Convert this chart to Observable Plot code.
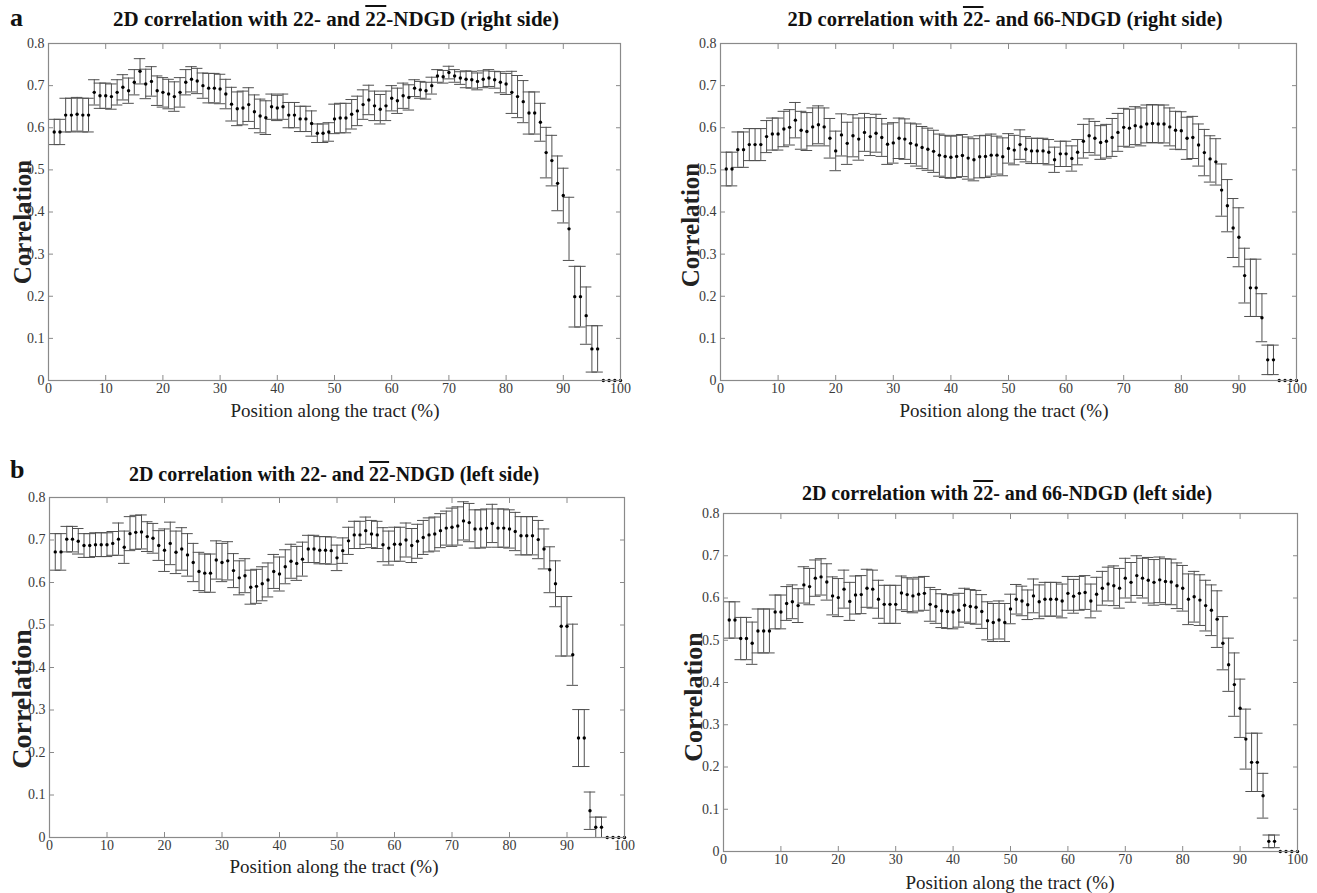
<!DOCTYPE html>
<html>
<head>
<meta charset="utf-8">
<script src="https://cdn.jsdelivr.net/npm/d3@7"></script>
<script src="https://cdn.jsdelivr.net/npm/@observablehq/plot@0.6"></script>
<style>
  html, body { margin: 0; padding: 0; background: #fff; }
  #root { position: relative; width: 1317px; height: 893px; overflow: hidden; font-family: "Liberation Serif", "DejaVu Serif", serif; color: #111; }
  .abs { position: absolute; white-space: nowrap; line-height: 1; }
  .title { font-weight: bold; transform: translateX(-50%); }
  .xlab { font-size: 19px; transform: translateX(-50%); color: #222; }
  .ylab { font-weight: bold; transform: translate(-50%, -50%) rotate(-90deg); color: #222; }
  .plab { font-weight: bold; font-size: 26px; }
  .ov { text-decoration: overline; }
  svg { position: absolute; overflow: visible; }
  svg text { font-family: "Liberation Serif", serif !important; }
</style>
</head>
<body>
<div id="root"></div>
<script>
// ---------- data ----------
const positions = d3.range(1, 101); // position along the tract (%)
const xTicks = [0, 10, 20, 30, 40, 50, 60, 70, 80, 90, 100];
const yTicks = [0, 0.1, 0.2, 0.3, 0.4, 0.5, 0.6, 0.7, 0.8];
const yTickLabels = ["0", "0.1", "0.2", "0.3", "0.4", "0.5", "0.6", "0.7", "0.8"];

// a, left panel: 22- and 22bar-NDGD (right side)
const meanARight22 = [
  0.59,0.59,0.63,0.63,0.632,0.63,0.63,0.684,0.676,0.676,
  0.674,0.684,0.696,0.688,0.708,0.734,0.704,0.71,0.688,0.684,
  0.68,0.674,0.684,0.708,0.715,0.711,0.70,0.694,0.694,0.692,
  0.68,0.656,0.645,0.647,0.655,0.638,0.628,0.624,0.65,0.647,
  0.65,0.63,0.63,0.621,0.621,0.61,0.587,0.587,0.59,0.621,
  0.623,0.623,0.632,0.64,0.655,0.666,0.652,0.644,0.652,0.67,
  0.664,0.676,0.672,0.694,0.69,0.688,0.70,0.723,0.721,0.731,
  0.723,0.718,0.715,0.714,0.71,0.715,0.718,0.714,0.708,0.704,
  0.684,0.674,0.662,0.635,0.635,0.613,0.541,0.522,0.468,0.439,
  0.36,0.199,0.199,0.154,0.075,0.075,0,0,0,0
];
const errARight22 = [
  0.03,0.03,0.04,0.04,0.04,0.04,0.04,0.03,0.03,0.03,
  0.03,0.03,0.03,0.03,0.03,0.03,0.035,0.035,0.035,0.035,
  0.035,0.035,0.035,0.03,0.03,0.03,0.03,0.035,0.035,0.035,
  0.035,0.04,0.04,0.04,0.04,0.04,0.04,0.04,0.03,0.03,
  0.03,0.03,0.03,0.03,0.03,0.03,0.022,0.022,0.022,0.035,
  0.035,0.035,0.035,0.035,0.035,0.035,0.035,0.035,0.035,0.03,
  0.03,0.03,0.03,0.02,0.02,0.02,0.02,0.015,0.015,0.015,
  0.015,0.015,0.02,0.02,0.02,0.02,0.02,0.02,0.025,0.025,
  0.05,0.05,0.05,0.05,0.05,0.045,0.06,0.06,0.065,0.065,
  0.075,0.072,0.072,0.068,0.055,0.055,0,0,0,0
];

// a, right panel: 22bar- and 66-NDGD (right side)
const meanARight66 = [
  0.502,0.502,0.548,0.548,0.56,0.56,0.56,0.579,0.585,0.585,
  0.597,0.601,0.618,0.594,0.591,0.602,0.607,0.602,0.575,0.545,
  0.583,0.563,0.581,0.573,0.589,0.579,0.587,0.577,0.561,0.564,
  0.575,0.573,0.563,0.559,0.553,0.549,0.544,0.535,0.532,0.53,
  0.532,0.534,0.528,0.524,0.531,0.532,0.535,0.535,0.531,0.551,
  0.547,0.56,0.549,0.545,0.545,0.545,0.542,0.524,0.538,0.538,
  0.527,0.542,0.568,0.581,0.575,0.565,0.568,0.577,0.589,0.601,
  0.599,0.605,0.602,0.609,0.61,0.609,0.609,0.602,0.594,0.593,
  0.575,0.577,0.559,0.541,0.526,0.519,0.452,0.415,0.362,0.34,
  0.249,0.22,0.22,0.149,0.049,0.049,0,0,0,0
];
const errARight66 = [
  0.04,0.04,0.042,0.042,0.038,0.038,0.038,0.038,0.038,0.038,
  0.042,0.042,0.042,0.045,0.045,0.045,0.045,0.045,0.047,0.047,
  0.05,0.05,0.05,0.05,0.045,0.045,0.045,0.045,0.048,0.048,
  0.048,0.048,0.048,0.05,0.05,0.05,0.05,0.05,0.05,0.05,
  0.05,0.05,0.05,0.05,0.05,0.05,0.05,0.045,0.045,0.035,
  0.035,0.035,0.03,0.03,0.03,0.03,0.03,0.03,0.03,0.03,
  0.03,0.03,0.04,0.04,0.04,0.04,0.04,0.045,0.045,0.045,
  0.045,0.045,0.045,0.045,0.045,0.045,0.045,0.045,0.045,0.045,
  0.05,0.05,0.05,0.055,0.055,0.055,0.062,0.062,0.07,0.07,
  0.065,0.068,0.068,0.057,0.035,0.035,0,0,0,0
];

// b, left panel: 22- and 22bar-NDGD (left side)
const meanBLeft22 = [
  0.672,0.672,0.702,0.702,0.697,0.687,0.687,0.689,0.689,0.689,
  0.692,0.702,0.683,0.715,0.718,0.719,0.708,0.704,0.687,0.676,
  0.692,0.671,0.679,0.665,0.647,0.626,0.622,0.622,0.653,0.647,
  0.651,0.628,0.611,0.616,0.589,0.591,0.597,0.606,0.626,0.62,
  0.637,0.65,0.645,0.655,0.679,0.679,0.676,0.676,0.675,0.658,
  0.675,0.698,0.712,0.712,0.722,0.714,0.712,0.689,0.681,0.69,
  0.69,0.70,0.687,0.697,0.706,0.712,0.714,0.722,0.728,0.73,
  0.733,0.745,0.741,0.726,0.726,0.728,0.739,0.728,0.728,0.726,
  0.72,0.71,0.71,0.71,0.701,0.679,0.63,0.597,0.497,0.497,
  0.43,0.234,0.234,0.063,0.024,0.024,0,0,0,0
];
const errBLeft22 = [
  0.043,0.043,0.03,0.03,0.03,0.028,0.028,0.028,0.028,0.028,
  0.028,0.038,0.038,0.04,0.04,0.04,0.035,0.035,0.035,0.05,
  0.05,0.05,0.05,0.05,0.045,0.045,0.045,0.045,0.045,0.045,
  0.045,0.04,0.04,0.04,0.04,0.04,0.04,0.04,0.04,0.04,
  0.04,0.04,0.04,0.04,0.032,0.032,0.032,0.032,0.032,0.03,
  0.03,0.032,0.032,0.032,0.032,0.032,0.032,0.04,0.04,0.04,
  0.04,0.04,0.04,0.04,0.04,0.04,0.04,0.04,0.04,0.045,
  0.045,0.045,0.045,0.045,0.045,0.045,0.045,0.045,0.045,0.045,
  0.045,0.045,0.045,0.045,0.045,0.047,0.054,0.054,0.07,0.07,
  0.072,0.067,0.067,0.044,0.024,0.024,0,0,0,0
];

// b, right panel: 22bar- and 66-NDGD (left side)
const meanBLeft66 = [
  0.548,0.548,0.504,0.504,0.493,0.522,0.522,0.522,0.567,0.567,
  0.587,0.591,0.582,0.631,0.627,0.647,0.65,0.638,0.605,0.601,
  0.621,0.592,0.607,0.608,0.623,0.621,0.597,0.585,0.585,0.585,
  0.612,0.608,0.605,0.609,0.611,0.585,0.58,0.57,0.568,0.567,
  0.571,0.583,0.58,0.578,0.568,0.546,0.542,0.548,0.542,0.574,
  0.597,0.593,0.584,0.605,0.591,0.597,0.597,0.597,0.593,0.611,
  0.604,0.611,0.613,0.593,0.609,0.623,0.633,0.629,0.623,0.647,
  0.637,0.653,0.647,0.642,0.637,0.643,0.639,0.638,0.629,0.623,
  0.597,0.603,0.595,0.582,0.571,0.55,0.493,0.442,0.395,0.339,
  0.266,0.211,0.211,0.132,0.024,0.024,0,0,0,0
];
const errBLeft66 = [
  0.043,0.043,0.05,0.05,0.05,0.052,0.052,0.052,0.04,0.04,
  0.04,0.04,0.04,0.043,0.043,0.043,0.043,0.043,0.045,0.045,
  0.045,0.045,0.045,0.045,0.045,0.045,0.045,0.045,0.045,0.045,
  0.04,0.04,0.04,0.04,0.04,0.04,0.04,0.04,0.04,0.04,
  0.04,0.04,0.04,0.04,0.04,0.045,0.045,0.045,0.045,0.035,
  0.035,0.035,0.035,0.04,0.04,0.04,0.04,0.04,0.04,0.04,
  0.04,0.04,0.04,0.04,0.04,0.04,0.04,0.047,0.047,0.047,
  0.047,0.047,0.047,0.054,0.054,0.054,0.054,0.054,0.054,0.054,
  0.06,0.06,0.06,0.06,0.06,0.067,0.063,0.063,0.075,0.069,
  0.071,0.069,0.069,0.053,0.015,0.015,0,0,0,0
];

const xLabel = "Position along the tract (%)";
const yLabel = "Correlation";

// ---------- layout ----------
const root = document.getElementById("root");
const ML = 40, MR = 15, MT = 10, MB = 28;
const FONT = "Liberation Serif";

function addText(html, cls, style) {
  const d = document.createElement("div");
  d.className = "abs " + cls;
  d.innerHTML = html;
  Object.assign(d.style, style);
  root.appendChild(d);
}

function panel(means, errs, f) {
  const data = positions.map((p, i) => ({x: p, y: means[i], e: errs[i], lo: means[i] - errs[i], hi: means[i] + errs[i]}));
  const capped = data.filter(d => d.e > 0);
  const W = f.r - f.l, H = f.b - f.t;
  const grey = "#8a8a8a", bar = "#505050";
  const svg = Plot.plot({
    width: W + ML + MR,
    height: H + MT + MB,
    marginLeft: ML, marginRight: MR, marginTop: MT, marginBottom: MB,
    style: {fontFamily: FONT, fontSize: "14px", background: "transparent", color: "#333"},
    x: {domain: [0, 100], label: null},
    y: {domain: [0, 0.8], label: null},
    marks: [
      Plot.ruleX(data, {x: "x", y1: "lo", y2: "hi", stroke: bar, strokeWidth: 1}),
      Plot.ruleY(capped, {y: "lo", x1: d => d.x - 1, x2: d => d.x + 1, stroke: bar, strokeWidth: 1}),
      Plot.ruleY(capped, {y: "hi", x1: d => d.x - 1, x2: d => d.x + 1, stroke: bar, strokeWidth: 1}),
      Plot.dot(data, {x: "x", y: "y", r: 1.7, fill: "#000", stroke: "none"}),
      Plot.axisX({anchor: "bottom", ticks: xTicks, tickFormat: d => String(d), tickSize: -5, tickPadding: 8, stroke: grey, fill: "#3a3a3a", fontFamily: FONT, fontSize: 14, label: null}),
      Plot.axisX({anchor: "top", ticks: xTicks, tickFormat: () => "", tickSize: -5, tickPadding: 5, stroke: grey, label: null}),
      Plot.axisY({anchor: "left", ticks: yTicks, tickFormat: d => yTickLabels[yTicks.indexOf(d)], tickSize: -5, tickPadding: 9, stroke: grey, fill: "#3a3a3a", fontFamily: FONT, fontSize: 14, label: null}),
      Plot.axisY({anchor: "right", ticks: yTicks, tickFormat: () => "", tickSize: -5, tickPadding: 5, stroke: grey, label: null}),
      Plot.frame({stroke: grey, strokeWidth: 1.2})
    ]
  });
  svg.style.left = (f.l - ML) + "px";
  svg.style.top = (f.t - MT) + "px";
  root.appendChild(svg);

  addText(f.title, "title", {left: f.tx + "px", top: (f.ty - f.ts / 2) + "px", fontSize: f.ts + "px"});
  addText(xLabel, "xlab", {left: f.xx + "px", top: (f.xy - 9.5) + "px"});
  addText(yLabel, "ylab", {left: f.yx + "px", top: f.yy + "px", fontSize: f.ys + "px"});
}

panel(meanARight22, errARight22, {
  l: 48, r: 620, t: 43, b: 380,
  title: '2D correlation with 22- and <span class="ov">22</span>-NDGD (right side)', tx: 336, ty: 19, ts: 21,
  xx: 335, xy: 410, yx: 22, yy: 222, ys: 25
});
panel(meanARight66, errARight66, {
  l: 720, r: 1296, t: 43, b: 380,
  title: '2D correlation with <span class="ov">22</span>- and 66-NDGD (right side)', tx: 1005, ty: 19, ts: 20.5,
  xx: 1004, xy: 410, yx: 690, yy: 225, ys: 25
});
panel(meanBLeft22, errBLeft22, {
  l: 49, r: 624, t: 497, b: 837,
  title: '2D correlation with 22- and <span class="ov">22</span>-NDGD (left side)', tx: 334, ty: 474, ts: 20,
  xx: 334, xy: 866, yx: 22, yy: 699, ys: 28
});
panel(meanBLeft66, errBLeft66, {
  l: 723, r: 1297, t: 513, b: 851,
  title: '2D correlation with <span class="ov">22</span>- and 66-NDGD (left side)', tx: 1007, ty: 493, ts: 20,
  xx: 1010, xy: 882, yx: 694, yy: 697, ys: 26
});

addText("a", "plab", {left: "10px", top: "5px"});
addText("b", "plab", {left: "10px", top: "457px"});
</script>
</body>
</html>
